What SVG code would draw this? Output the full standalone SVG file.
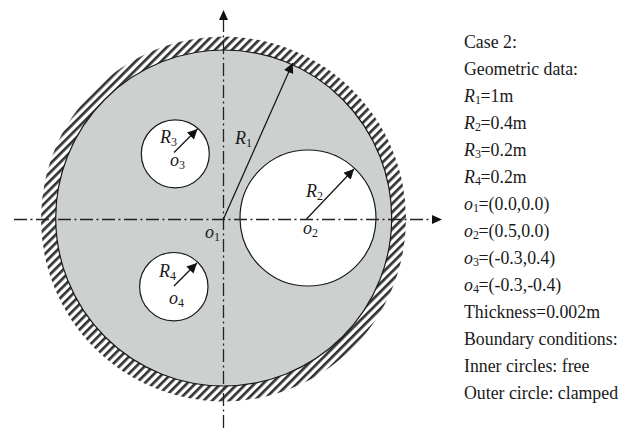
<svg xmlns="http://www.w3.org/2000/svg" width="630" height="428" viewBox="0 0 630 428">
<style>
text{font-family:"Liberation Serif","Times New Roman",serif;font-size:17.8px;fill:#1a1a1a}
.i{font-style:italic}
.l{font-size:18px}
.s{font-size:12px;font-style:normal;letter-spacing:-.3px}
.c{stroke:#1a1a1a;stroke-width:1.2;fill:#fff}
.r{stroke:#111;stroke-width:1.2;fill:none;marker-end:url(#a)}
.ax{stroke:#222;stroke-width:1.3;fill:none;stroke-dasharray:13 3.5 2 3.5}
</style>
<defs>
<pattern id="h" width="6" height="6" patternUnits="userSpaceOnUse" patternTransform="rotate(45)">
<rect width="6" height="6" fill="#fff"/>
<rect width="2.7" height="6" fill="#333"/>
</pattern>
<marker id="a" markerWidth="10" markerHeight="10" refX="10" refY="5" orient="auto" markerUnits="userSpaceOnUse"><path d="M0 0L10 5L0 10Z" fill="#111"/></marker>
<marker id="b" markerWidth="10" markerHeight="9" refX="1" refY="4.500" orient="auto" markerUnits="userSpaceOnUse"><path d="M0 0L10 4.500L0 9Z" fill="#111"/></marker>
</defs>
<g id="plate">
<circle cx="223.500" cy="219" r="182.500" fill="url(#h)"/>
<circle cx="223.700" cy="218" r="168" fill="#ccd0cf" stroke="#1a1a1a" stroke-width="1.2"/>
</g>
<g id="hole2"><circle class="c" cx="308" cy="218" r="68"/></g>
<g id="hole3"><circle class="c" cx="175.300" cy="153.800" r="34"/></g>
<g id="hole4"><circle class="c" cx="173.800" cy="286.700" r="34.200"/></g>
<g id="connectors">
<path class="ax" d="M14 219.500H433" marker-end="url(#b)"/>
<path class="ax" d="M223.500 428V19" marker-end="url(#b)"/>
<path class="r" d="M223.500 219L292.700 63"/>
<path class="r" d="M306.500 219L354 169"/>
<path class="r" d="M174 152.500L197.500 129"/>
<path class="r" d="M174 286L197 263"/>
</g>
<g id="labels">
<text x="235" y="144" class="i l">R<tspan class="s" dy="3">1</tspan></text>
<text x="306" y="197" class="i l">R<tspan class="s" dy="3">2</tspan></text>
<text x="160" y="143" class="i l">R<tspan class="s" dy="3">3</tspan></text>
<text x="159" y="277" class="i l">R<tspan class="s" dy="3">4</tspan></text>
<text x="205" y="238" class="i l">o<tspan class="s" dy="3">1</tspan></text>
<text x="303" y="234" class="i l">o<tspan class="s" dy="3">2</tspan></text>
<text x="170" y="166" class="i l">o<tspan class="s" dy="3">3</tspan></text>
<text x="169" y="304" class="i l">o<tspan class="s" dy="3">4</tspan></text>
</g>
<g id="data">
<text x="464" y="48">Case 2:</text>
<text x="464" y="75">Geometric data:</text>
<text x="464" y="102"><tspan class="i">R</tspan><tspan class="s" dy="2">1</tspan><tspan dy="-2">=1m</tspan></text>
<text x="464" y="129"><tspan class="i">R</tspan><tspan class="s" dy="2">2</tspan><tspan dy="-2">=0.4m</tspan></text>
<text x="464" y="156"><tspan class="i">R</tspan><tspan class="s" dy="2">3</tspan><tspan dy="-2">=0.2m</tspan></text>
<text x="464" y="183"><tspan class="i">R</tspan><tspan class="s" dy="2">4</tspan><tspan dy="-2">=0.2m</tspan></text>
<text x="464" y="210"><tspan class="i">o</tspan><tspan class="s" dy="2">1</tspan><tspan dy="-2">=(0.0,0.0)</tspan></text>
<text x="464" y="237"><tspan class="i">o</tspan><tspan class="s" dy="2">2</tspan><tspan dy="-2">=(0.5,0.0)</tspan></text>
<text x="464" y="264"><tspan class="i">o</tspan><tspan class="s" dy="2">3</tspan><tspan dy="-2">=(-0.3,0.4)</tspan></text>
<text x="464" y="291"><tspan class="i">o</tspan><tspan class="s" dy="2">4</tspan><tspan dy="-2">=(-0.3,-0.4)</tspan></text>
<text x="464" y="318">Thickness=0.002m</text>
<text x="464" y="345">Boundary conditions:</text>
<text x="464" y="372">Inner circles: free</text>
<text x="464" y="399">Outer circle: clamped</text>
</g>
</svg>
